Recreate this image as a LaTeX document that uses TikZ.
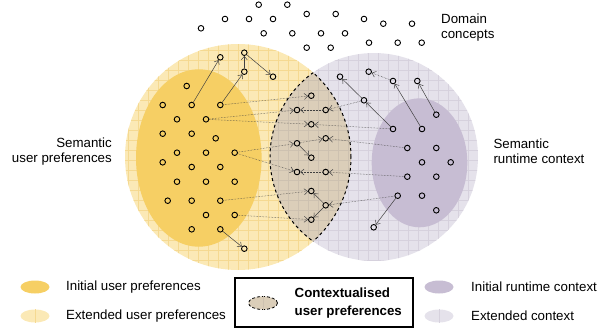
\documentclass[tikz,border=0pt]{standalone}
\usepackage{fontspec}
\setmainfont{Liberation Sans}
\usepackage{tikz}
\usetikzlibrary{arrows.meta,positioning,shapes.geometric}
\usepackage{xcolor}
\definecolor{userinit}{RGB}{246,207,100}
\definecolor{userext}{RGB}{251,233,182}
\definecolor{usergrid}{RGB}{245,217,145}
\definecolor{ctxinit}{RGB}{199,189,211}
\definecolor{ctxext}{RGB}{229,226,235}
\definecolor{ctxgrid}{RGB}{214,209,221}
\definecolor{lensfill}{RGB}{219,206,185}
\definecolor{lensgrid}{RGB}{205,193,176}
\tikzset{
  concept/.style={circle,draw,line width=0.9pt,minimum size=5.6pt,inner sep=0pt},
  link/.style={->,line width=0.5pt,draw=black!75},
  dotlink/.style={link,densely dotted},
  lbl/.style={font=\fontsize{13.3}{15.3}\selectfont,inner sep=0pt},
  keyshape/.style={ellipse,minimum width=29pt,minimum height=13pt,inner sep=0pt},
}

\begin{document}
\begin{tikzpicture}[x=1pt,y=-1pt,>={Straight Barb[length=3.5pt,width=6pt]}]
  \useasboundingbox (0,0) rectangle (608,332);
  % areas
  \fill[userext] (238,157) circle (113pt);
  \begin{scope}
    \clip (238,157) circle (113pt);
    \draw[usergrid,line width=0.5pt,xshift=8.5pt] (100,30) grid[step=10pt] (360,280);
  \end{scope}
  \fill[ctxext] (374,157) circle (104pt);
  \begin{scope}
    \clip (374,157) circle (104pt);
    \draw[ctxgrid,line width=0.5pt,xshift=8.5pt] (260,40) grid[step=10pt] (490,270);
  \end{scope}
  \begin{scope}
    \clip (238,157) circle (113pt);
    \fill[lensfill] (374,157) circle (104pt);
    \clip (374,157) circle (104pt);
    \draw[lensgrid,line width=0.5pt,xshift=8.5pt] (260,60) grid[step=10pt] (360,250);
  \end{scope}
  \fill[userinit] (198.8,158) ellipse [x radius=62.8pt,y radius=88.7pt];
  \fill[ctxinit] (419.5,162.8) ellipse [x radius=47.8pt,y radius=64.5pt];
  \begin{scope}
    \clip (238,157) circle (113pt);
    \draw[dashed,line width=1pt] (374,157) circle (104pt);
  \end{scope}
  \begin{scope}
    \clip (374,157) circle (104pt);
    \draw[dashed,line width=1pt] (238,157) circle (113pt);
  \end{scope}

  % domain concepts
  \foreach \px/\py [count=\i] in {258.7/4.7,287.3/4.7,201/28.3,225/19,249/19,273/19,
      306.7/14,335.7/14,263.7/33.3,292.3/33.3,321/33.3,345/33.3,306.7/47.7,330.7/47.7,
      364/19,383.3/23.7,412/23.7,369/42.7,397.7/42.7,421.7/42.7}
    \node[concept] (d\i) at (\px,\py) {};

  % initial user preferences
  \node[concept] (u1) at (186.7,86) {};
  \node[concept] (u2) at (162.7,105) {};
  \node[concept] (u3) at (191.7,105) {};
  \node[concept] (u4) at (220.3,105) {};
  \node[concept] (u5) at (177,119.3) {};
  \node[concept] (u6) at (206,119.3) {};
  \node[concept] (u7) at (162.7,133.7) {};
  \node[concept] (u8) at (191.7,133.7) {};
  \node[concept] (u9) at (215.7,138.3) {};
  \node[concept] (u10) at (177,152.7) {};
  \node[concept] (u11) at (206,152.7) {};
  \node[concept] (u12) at (234.7,152.7) {};
  \node[concept] (u13) at (162.7,162.3) {};
  \node[concept] (u14) at (191.7,167) {};
  \node[concept] (u15) at (220.3,167) {};
  \node[concept] (u16) at (177,181.7) {};
  \node[concept] (u17) at (206,181.7) {};
  \node[concept] (u18) at (234.7,181.7) {};
  \node[concept] (u19) at (167.7,200.7) {};
  \node[concept] (u20) at (191.7,200.7) {};
  \node[concept] (u21) at (220.3,200.7) {};
  \node[concept] (u22) at (206,215) {};
  \node[concept] (u23) at (234.7,215) {};
  \node[concept] (u24) at (191.7,229.3) {};
  \node[concept] (u25) at (220.3,229.3) {};

  % extended user preferences
  \node[concept] (ux1) at (220.3,57.3) {};
  \node[concept] (ux2) at (244.3,52.7) {};
  \node[concept] (ux3) at (244.3,71.7) {};
  \node[concept] (ux4) at (273,76.7) {};
  \node[concept] (ux5) at (244.3,248.7) {};

  % contextualised preferences
  \node[concept] (c1) at (311.3,95.7) {};
  \node[concept] (c2) at (297,110) {};
  \node[concept] (c3) at (325.7,110) {};
  \node[concept] (c4) at (311.3,124.3) {};
  \node[concept] (c5) at (297,143.3) {};
  \node[concept] (c6) at (325.7,138.3) {};
  \node[concept] (c7) at (311.3,157.7) {};
  \node[concept] (c8) at (297,172) {};
  \node[concept] (c9) at (325.7,172) {};
  \node[concept] (c10) at (311.3,191) {};
  \node[concept] (c11) at (325.7,205.3) {};
  \node[concept] (c12) at (311.3,219.7) {};

  % extended context
  \node[concept] (rx1) at (340,76.7) {};
  \node[concept] (rx2) at (368.7,71.7) {};
  \node[concept] (rx3) at (393,81) {};
  \node[concept] (rx4) at (417.3,81) {};
  \node[concept] (rx5) at (364,100.3) {};
  \node[concept] (rx6) at (373.7,227.3) {};

  % initial runtime context
  \node[concept] (r1) at (436.3,114.7) {};
  \node[concept] (r2) at (393,129) {};
  \node[concept] (r3) at (422,129) {};
  \node[concept] (r4) at (407.3,148) {};
  \node[concept] (r5) at (436.3,148) {};
  \node[concept] (r6) at (422,162.3) {};
  \node[concept] (r7) at (450.7,162.3) {};
  \node[concept] (r8) at (407.3,176.7) {};
  \node[concept] (r9) at (436.3,176.7) {};
  \node[concept] (r10) at (397.7,195.7) {};
  \node[concept] (r11) at (422,195.7) {};
  \node[concept] (r12) at (436.3,210.3) {};

  \draw[link] (u3) -- (ux1);
  \draw[link] (u4) -- (ux3);
  \draw[link] (ux3) -- (ux2);
  \draw[link] (ux2) -- (ux4);
  \draw[link] (u25) -- (ux5);
  \draw[dotlink] (u4) -- (c1);
  \draw[dotlink] (u6) -- (c2);
  \draw[dotlink] (u6) -- (c4);
  \draw[dotlink] (u12) -- (c5);
  \draw[dotlink] (u12) -- (c8);
  \draw[dotlink] (u21) -- (c10);
  \draw[dotlink] (u23) -- (c12);
  \draw[link] (c5) -- (c7);
  \draw[dotlink] (c5) -- (c6);
  \draw[link] (c11) -- (c10);
  \draw[link] (c11) -- (c12);
  \draw[dotlink] (c3) -- (c2);
  \draw[dotlink] (c9) -- (c8);
  \draw[dotlink] (rx5) -- (c3);
  \draw[dotlink] (r2) -- (c4);
  \draw[dotlink] (r4) -- (c6);
  \draw[dotlink] (r8) -- (c9);
  \draw[dotlink] (r10) -- (c11);
  \draw[link] (r10) -- (rx6);
  \draw[link] (r2) -- (rx5);
  \draw[link] (rx5) -- (rx1);
  \draw[link] (r3) -- (rx3);
  \draw[dotlink] (rx3) -- (rx2);
  \draw[link] (r1) -- (rx4);

  \node[lbl,anchor=east,align=right] (userlbl) at (112,151.5) {Semantic\\user preferences};
  \node[lbl,anchor=west,align=left] (ctxlbl) at (493.3,151.5) {Semantic\\runtime context};
  \node[lbl,anchor=west,align=left] (domlbl) at (441,27.5) {Domain\\concepts};

  % legend
  \node[keyshape,fill=userinit] (keyUI) at (35,287) {};
  \node[keyshape,fill=userext] (keyUX) at (35,316) {};
  \draw[usergrid,line width=0.6pt] (keyUX.north) -- (keyUX.south);
  \node[lbl,anchor=west] (txtUI) at (66,287) {Initial user preferences};
  \node[lbl,anchor=west] (txtUX) at (66,316) {Extended user preferences};
  \node[draw,line width=1.2pt,minimum width=178pt,minimum height=49pt,inner sep=0pt] (ctxbox) at (324,302.5) {};
  \node[keyshape,fill=lensfill,draw,densely dashed,line width=0.8pt] (keyCT) at (263,303) {};
  \draw[lensgrid,line width=0.6pt] (keyCT.north) -- (keyCT.south);
  \node[lbl,anchor=west,align=left,font=\fontsize{13.3}{17.2}\selectfont\bfseries] (txtCT) at (294.5,303) {Contextualised\\user preferences};
  \node[keyshape,fill=ctxinit] (keyRI) at (439,287) {};
  \node[keyshape,fill=ctxext] (keyRX) at (439,316) {};
  \draw[ctxgrid,line width=0.6pt] (keyRX.north) -- (keyRX.south);
  \node[lbl,anchor=west] (txtRI) at (471,287) {Initial runtime context};
  \node[lbl,anchor=west] (txtRX) at (471,316) {Extended context};
\end{tikzpicture}
\end{document}
